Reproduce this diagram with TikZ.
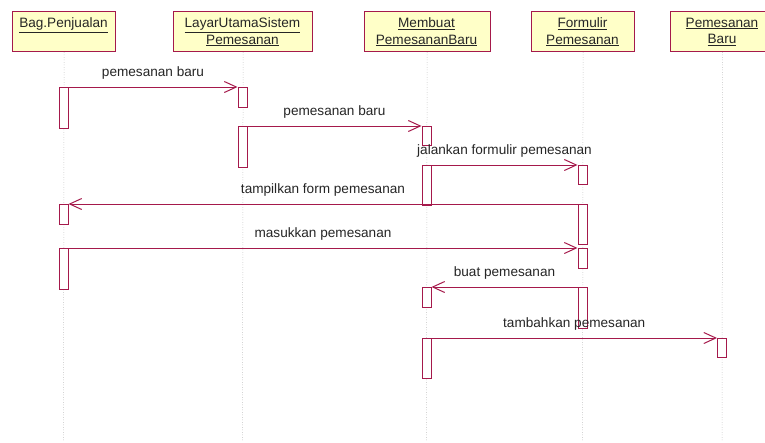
\documentclass[tikz,border=0pt]{standalone}
\usepackage{fontspec}
\setmainfont{Liberation Sans}
\usetikzlibrary{arrows.meta}
\definecolor{umlred}{RGB}{165,25,75}
\definecolor{umlfill}{RGB}{255,255,200}
\definecolor{lifegray}{RGB}{150,150,150}
\begin{document}
\begin{tikzpicture}[x=1pt,y=-1pt,
  headbox/.style={draw=umlred, fill=umlfill, line width=1.2pt, minimum height=40pt, anchor=north west, inner sep=0pt},
  htext/.style={anchor=north, inner sep=0pt, align=center, font=\fontsize{13.6}{16.5}\selectfont, text=black!85},
  life/.style={draw=lifegray, line width=0.5pt, dotted},
  actbox/.style={draw=umlred, fill=white, line width=1pt, minimum width=9pt, inner sep=0pt, anchor=north},
  msg/.style={draw=umlred, line width=1pt, -{Straight Barb[length=12pt,width=11pt]}},
  lbl/.style={midway, anchor=base, yshift=11pt, inner sep=0pt, font=\fontsize{13.6}{16.5}\selectfont, text=black!85}
]
\clip (0,0) rectangle (765,442);
\fill[white] (0,0) rectangle (765,442);

% heads
\node[headbox, minimum width=103pt] (hB) at (12,11) {};
\node[headbox, minimum width=139pt] (hL) at (173,11) {};
\node[headbox, minimum width=126pt] (hM) at (363.5,11) {};
\node[headbox, minimum width=103pt] (hF) at (531,11) {};
\node[headbox, minimum width=104pt] (hP) at (670,11) {};

\node[htext] (tB) at (63.5,17.5) {\underline{Bag.Penjualan}};
\node[htext] (tL) at (242.5,17.5) {\underline{LayarUtamaSistem}\\\underline{Pemesanan}};
\node[htext] (tM) at (426.5,17.5) {\underline{Membuat}\\\underline{PemesananBaru}};
\node[htext] (tF) at (582.5,17.5) {\underline{Formulir}\\\underline{Pemesanan}};
\node[htext] (tP) at (722,17.5) {\underline{Pemesanan}\\\underline{Baru}};

% lifelines
\coordinate (eB) at (63.5,442);
\coordinate (eL) at (242.5,442);
\coordinate (eM) at (426.5,442);
\coordinate (eF) at (582.5,442);
\coordinate (eP) at (722,442);
\draw[life] (hB.south) -- (eB);
\draw[life] (hL.south) -- (eL);
\draw[life] (hM.south) -- (eM);
\draw[life] (hF.south) -- (eF);
\draw[life] (hP.south) -- (eP);

% activations
\node[actbox, minimum height=41pt] (aB1) at (63.5,87) {};
\node[actbox, minimum height=20pt] (aL1) at (242.5,87) {};
\node[actbox, minimum height=41pt] (aL2) at (242.5,126) {};
\node[actbox, minimum height=19pt] (aM1) at (426.5,126) {};
\node[actbox, minimum height=40pt] (aM2) at (426.5,165) {};
\node[actbox, minimum height=19pt] (aF1) at (582.5,165) {};
\node[actbox, minimum height=40pt] (aF2) at (582.5,204) {};
\node[actbox, minimum height=20pt] (aB2) at (63.5,204) {};
\node[actbox, minimum height=41pt] (aB3) at (63.5,248) {};
\node[actbox, minimum height=20pt] (aF3) at (582.5,248) {};
\node[actbox, minimum height=41pt] (aF4) at (582.5,287) {};
\node[actbox, minimum height=20pt] (aM3) at (426.5,287) {};
\node[actbox, minimum height=40pt] (aM4) at (426.5,338) {};
\node[actbox, minimum height=19pt] (aP1) at (722,338) {};

% messages
\draw[msg] (aB1.north east) -- (aL1.north west) node[lbl] (m1) {pemesanan baru};
\draw[msg] (aL2.north east) -- (aM1.north west) node[lbl] (m2) {pemesanan baru};
\draw[msg] (aM2.north east) -- (aF1.north west) node[lbl] (m3) {jalankan formulir pemesanan};
\draw[msg] (aF2.north west) -- (aB2.north east) node[lbl] (m4) {tampilkan form pemesanan};
\draw[msg] (aB3.north east) -- (aF3.north west) node[lbl] (m5) {masukkan pemesanan};
\draw[msg] (aF4.north west) -- (aM3.north east) node[lbl] (m6) {buat pemesanan};
\draw[msg] (aM4.north east) -- (aP1.north west) node[lbl] (m7) {tambahkan pemesanan};
\end{tikzpicture}
\end{document}
